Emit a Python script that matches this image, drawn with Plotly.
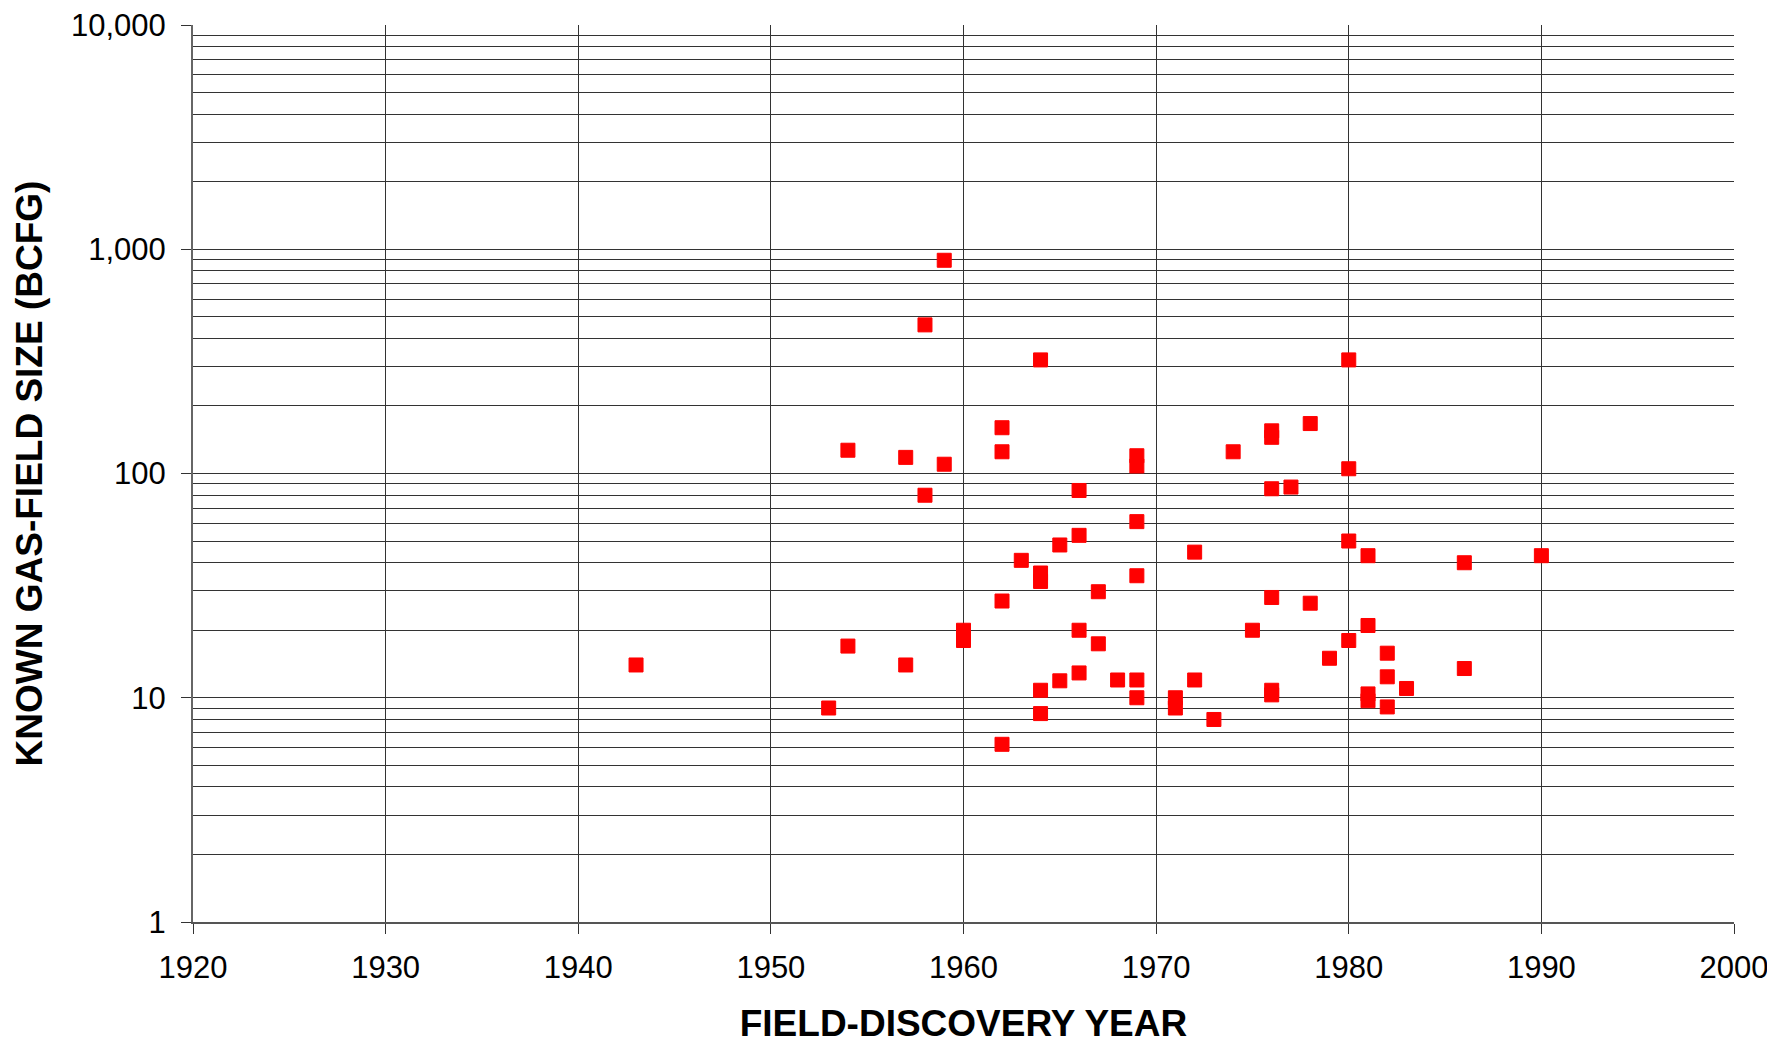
import plotly.graph_objects as go

# Field-discovery year and known gas-field size (BCFG)
years = [1943, 1953, 1954, 1954, 1957, 1957, 1958, 1958, 1959, 1959,
         1960, 1960, 1962, 1962, 1962, 1962, 1963, 1964, 1964, 1964,
         1964, 1964, 1965, 1965, 1966, 1966, 1966, 1966, 1967, 1967,
         1968, 1969, 1969, 1969, 1969, 1969, 1969, 1971, 1971, 1972,
         1972, 1973, 1974, 1975, 1976, 1976, 1976, 1976, 1976, 1976,
         1977, 1978, 1978, 1979, 1980, 1980, 1980, 1980, 1981, 1981,
         1981, 1981, 1982, 1982, 1982, 1983, 1986, 1986, 1990]
sizes = [14, 9.0, 127, 17, 118, 14, 460, 80, 893, 110,
         20, 18, 160, 125, 27, 6.2, 41, 321, 36, 33,
         10.8, 8.5, 48, 11.9, 84, 53, 20, 12.9, 29.7, 17.4,
         12, 120, 108, 61, 35, 12, 10, 10, 9.0, 44.6,
         12, 8.0, 125, 20, 155, 145, 85.5, 28, 10.8, 10.3,
         87, 167, 26.4, 15, 321, 105, 50, 18, 43, 21,
         10.4, 9.7, 15.8, 12.4, 9.1, 11, 40, 13.5, 43]

x_ticks = [1920, 1930, 1940, 1950, 1960, 1970, 1980, 1990, 2000]
y_ticks = [1, 10, 100, 1000, 10000]
y_tick_text = ["1", "10", "100", "1,000", "10,000"]

minor_vals = [m * 10 ** d for d in range(0, 4) for m in range(2, 10)]

fig = go.Figure()
fig.add_trace(go.Scatter(
    x=years, y=sizes, mode="markers",
    marker=dict(symbol="square", size=14, color="#ff0000",
                line=dict(color="#ff0000", width=1)),
    showlegend=False,
))

font_family = "Liberation Sans, Arial, sans-serif"
grid_col = "#333333"

# the page body adds an 8px offset, so the figure is 8px smaller
fig.update_layout(
    width=1767, height=1036,
    margin=dict(l=185, r=41, t=17, b=122),
    paper_bgcolor="white", plot_bgcolor="white",
    font=dict(family=font_family, color="black", size=31),
)
fig.update_xaxes(
    range=[1920, 2000], tickvals=x_ticks, ticks="outside", ticklen=10,
    tickcolor="#333", tickwidth=1, automargin=False, ticklabelstandoff=7,
    ticklabeloverflow="allow",
    showgrid=True, gridcolor=grid_col, gridwidth=1,
    showline=True, linecolor="#555", linewidth=2, mirror=False,
    zeroline=False,
    tickfont=dict(size=31, family=font_family),
    title=dict(text="<b>FIELD-DISCOVERY YEAR</b>", standoff=37,
               font=dict(size=37, family=font_family)),
)
fig.update_yaxes(
    type="log", range=[0, 4], tickvals=y_ticks, ticktext=y_tick_text,
    ticks="outside", ticklen=10, tickcolor="#333", tickwidth=1,
    automargin=False, ticklabelstandoff=9, ticklabeloverflow="allow",
    showgrid=True, gridcolor=grid_col, gridwidth=1,
    minor=dict(tickvals=minor_vals, showgrid=True, gridcolor=grid_col,
               gridwidth=1, ticks=""),
    showline=True, linecolor="#666", linewidth=2, mirror=False,
    zeroline=False,
    tickfont=dict(size=31, family=font_family),
    title=dict(text="<b>KNOWN GAS-FIELD SIZE (BCFG)</b>", standoff=17,
               font=dict(size=37, family=font_family)),
)

fig.write_html("out.html")
